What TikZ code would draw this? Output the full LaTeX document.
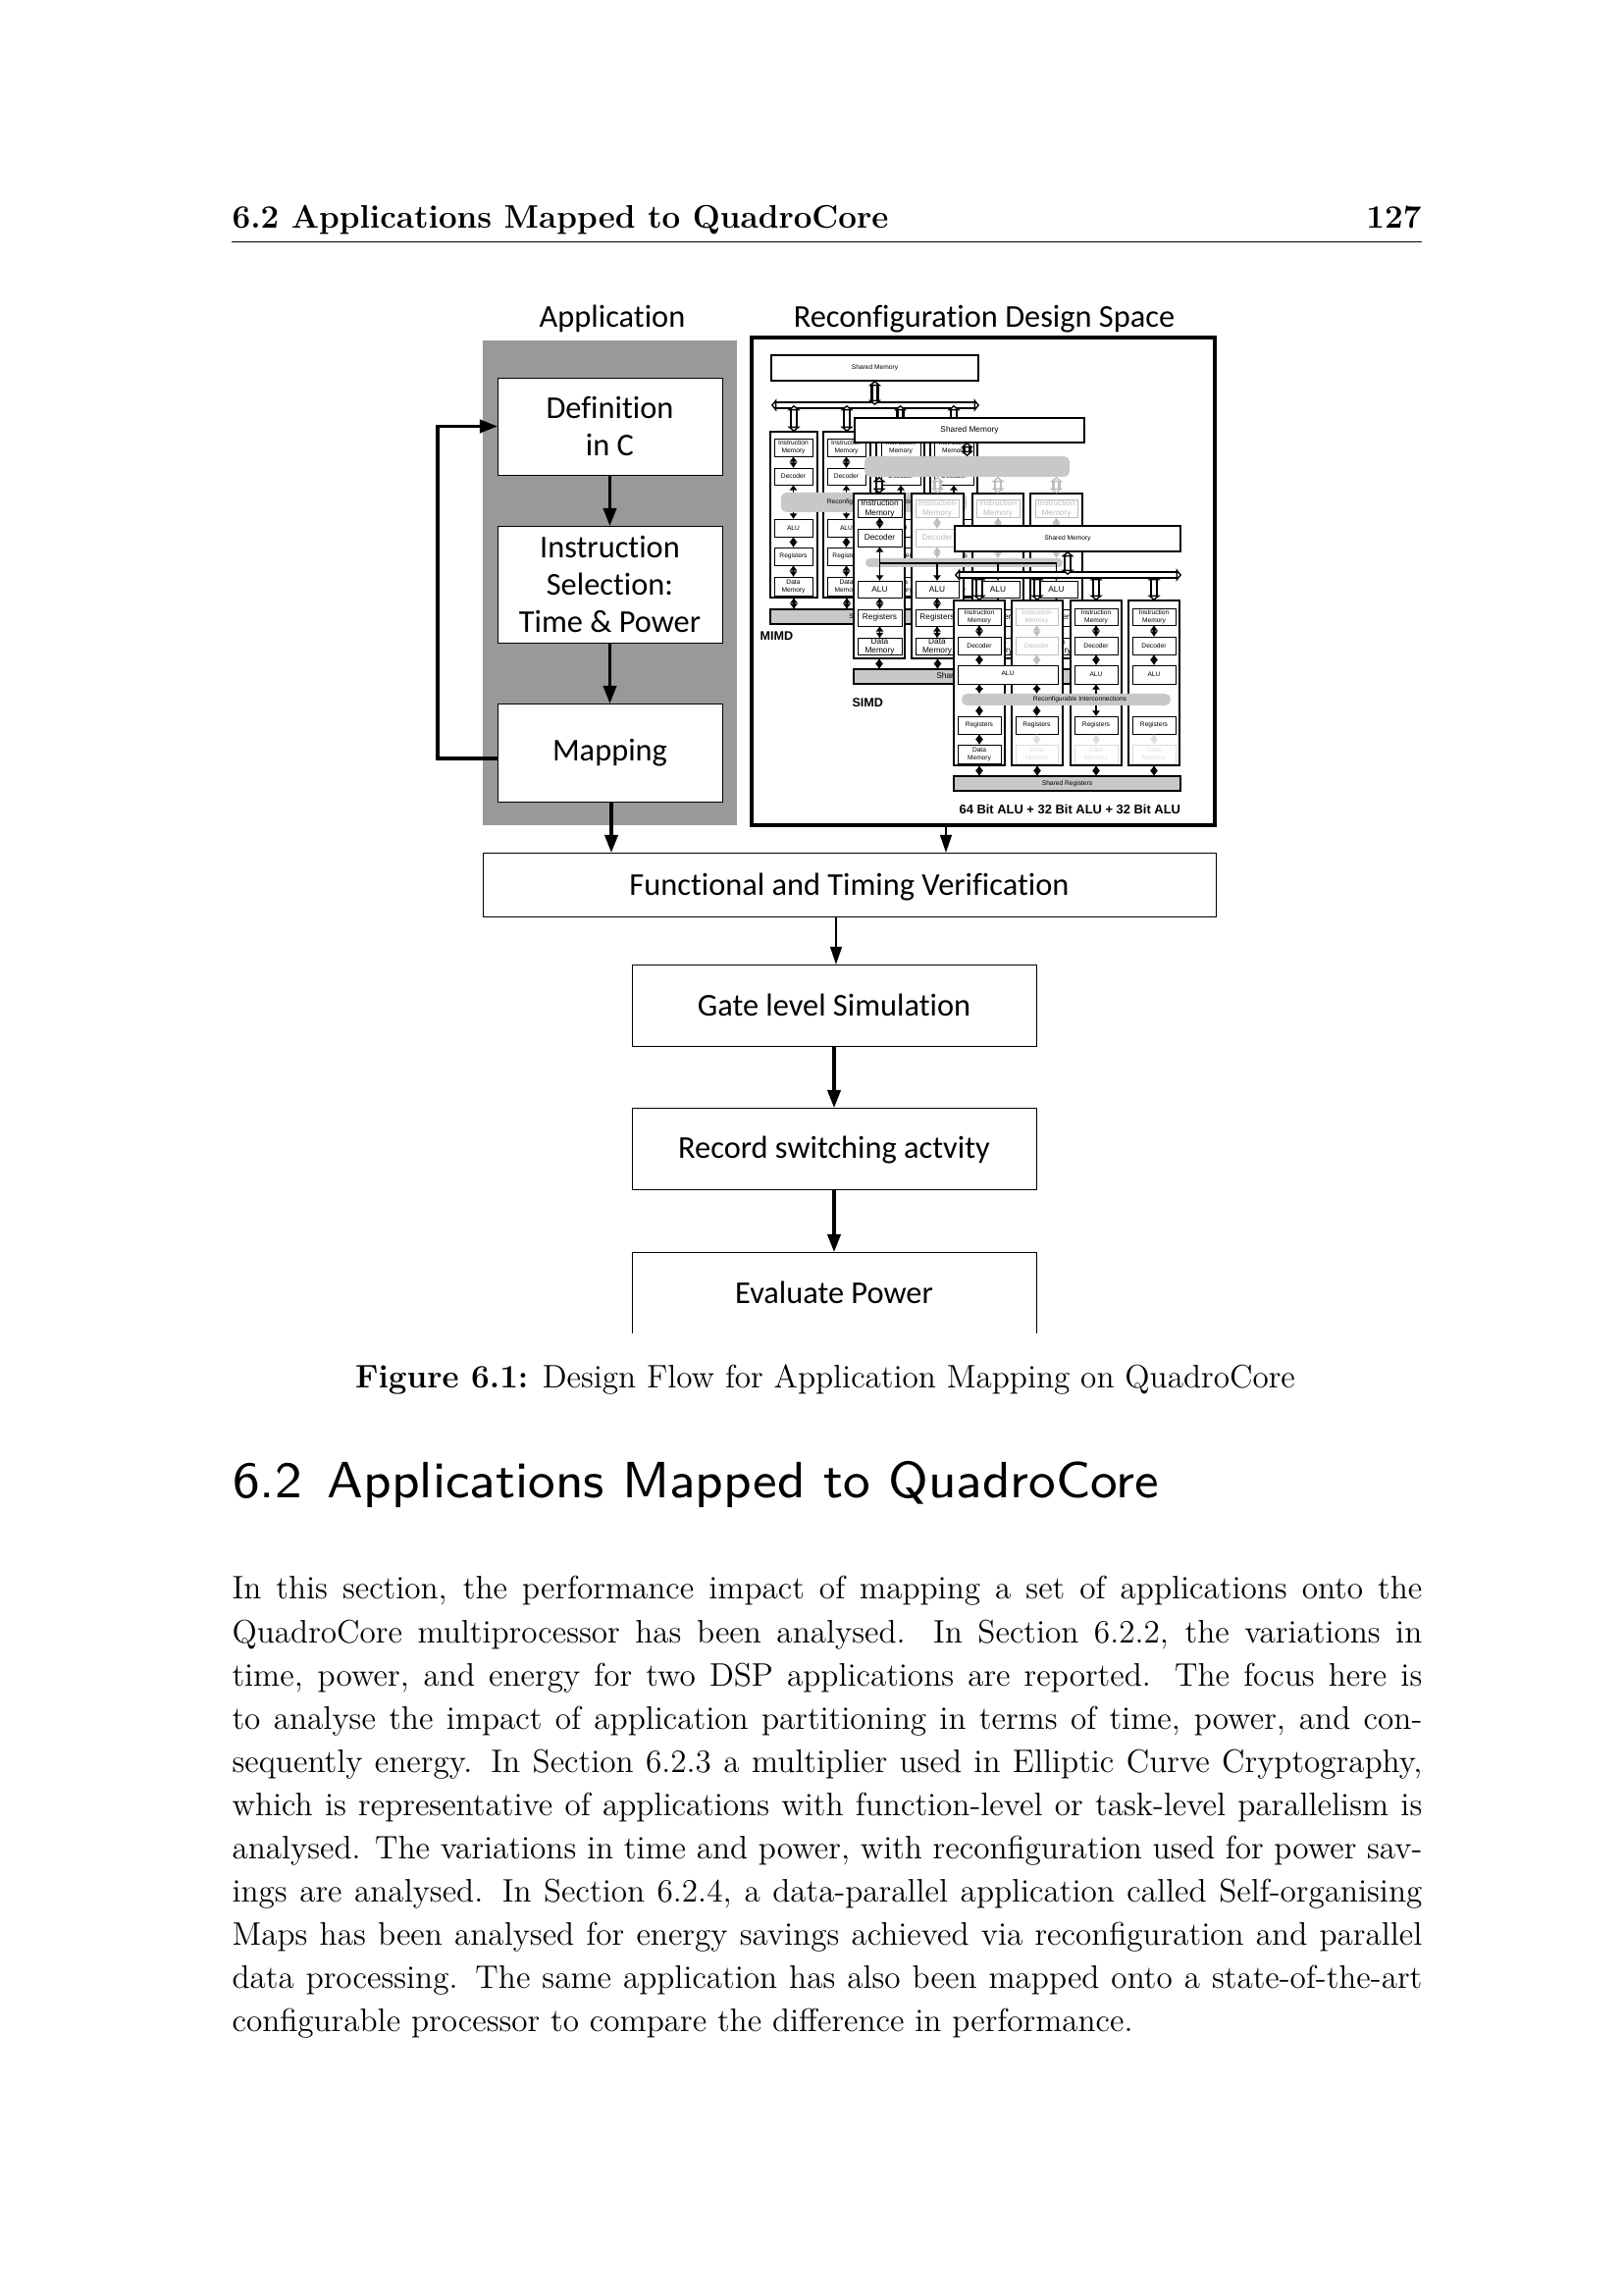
\documentclass[tikz,border=0pt]{standalone}
\usepackage{fontspec}
\newfontfamily\calibri[Ligatures=NoCommon]{Carlito}
\newfontfamily\arial{Liberation Sans}
\usetikzlibrary{calc,positioning,arrows.meta}
\definecolor{panelg}{HTML}{999999}
\definecolor{barg}{HTML}{C8C8C8}
\definecolor{ghost}{HTML}{BDBDBD}
\definecolor{faint}{HTML}{DDDDDD}
\tikzset{
  span/.style args={#1/#2/#3/#4}{at={({(#1+#3)/2},{(#2+#4)/2})},minimum width={(#3-#1)*0.36bp},minimum height={(#4-#2)*0.36bp},inner sep=0pt,outer sep=0pt,anchor=center},
  flowbox/.style={rectangle,draw=black,fill=white,line width=0.3bp,align=center,font=\calibri\fontsize{11.7}{13.7}\selectfont},
  flow/.style={draw,line width=1.1bp,arrows={-Triangle[length=6.5bp,width=4.8bp]}},
  flowthin/.style={draw,line width=0.8bp,arrows={-Triangle[length=6.5bp,width=4.2bp]}},
  core/.style={rectangle,draw=black,fill=white,line width=0.75bp},
  smem/.style={rectangle,draw=black,fill=white,line width=0.7bp,font=\arial\fontsize{2.4}{2.8}\selectfont},
  sreg/.style={smem,fill=barg},
  unita/.style={rectangle,draw=black,fill=white,line width=0.35bp,align=center,font=\arial\fontsize{2.4}{2.9}\selectfont},
  unitb/.style={unita,font=\arial\fontsize{3}{3.5}\selectfont},
  rbar/.style={fill=barg,rounded corners=2pt,font=\arial\fontsize{2.4}{2.8}\selectfont},
  conn/.style={line width=0.7bp,arrows={Latex[length=2bp,width=3bp]-Latex[length=2bp,width=3bp]}},
  ctl/.style={line width=0.7bp,arrows={-Latex[length=2bp,width=3bp]}},
  dbl/.style={double,double distance=1.3bp,line width=0.8bp,arrows={Triangle[length=1.9bp,width=4.6bp,fill=white]-Triangle[length=1.9bp,width=4.6bp,fill=white]}},
  tag/.style={anchor=west,inner sep=0pt,font=\arial\bfseries\fontsize{4.55}{5}\selectfont},
}
\begin{document}
\begin{tikzpicture}[x=0.36bp,y=-0.36bp]
  \useasboundingbox (0,0) rectangle (1654,2339);

  % page text
  \node[anchor=base west,inner sep=0pt,font=\bfseries\fontsize{12}{14}\selectfont] (runhead) at (236,233) {6.2 Applications Mapped to QuadroCore};
  \node[anchor=base east,inner sep=0pt,font=\bfseries\fontsize{12}{14}\selectfont] (pageno) at (1449,233) {127};
  \coordinate (rulel) at (236,246);
  \draw[line width=0.3pt] (rulel) -- (rulel -| pageno.east);

  \node[font=\calibri\fontsize{11.7}{13}\selectfont] (applab) at (624,325) {Application};
  \node[font=\calibri\fontsize{11.7}{13}\selectfont] (deslab) at (1003,325) {Reconfiguration Design Space};

  % application panel
  \node[fill=panelg,span=492/347/751/841] (panel) {};
  \node[flowbox,span=507/385/736/484] (def) {Definition\\in C};
  \node[flowbox,span=507/536/736/655] (ins) {Instruction\\Selection:\\Time \& Power};
  \node[flowbox,span=507/717/736/817] (map) {Mapping};

  % design space
  \node[rectangle,draw=black,fill=white,line width=1.1bp,span=766/344/1238/841] (space) {};

  % MIMD
  \node[smem,span=786/362/997/388] (amem) {Shared Memory};
  \coordinate (abusl) at (786,413);
  \coordinate (abusr) at (998,413);
  \draw[dbl] (abusl) -- (abusr);
  \draw[dbl] (amem.south) -- (amem.south |- abusl);
  \foreach \n/\xa/\xb/\ua/\ub in {1/785/833/789/828,2/839/887/843/882,3/893/942/898/938,4/948/996/952/992}{
    \node[core,span=\xa/440/\xb/609] (acore\n) {};
    \draw[dbl] (acore\n.north |- abusl) -- (acore\n.north);
    \node[unita,span=\ua/447/\ub/465] (aim\n) {Instruction\\Memory};
    \node[unita,span=\ua/477/\ub/494] (adec\n) {Decoder};
    \node[unita,span=\ua/529/\ub/547] (aalu\n) {ALU};
    \node[unita,span=\ua/558/\ub/576] (areg\n) {Registers};
    \node[unita,span=\ua/588/\ub/607] (adm\n) {Data\\Memory};
    \draw[conn] (aim\n) -- (adec\n);
    \draw[conn] (adec\n) -- (aalu\n);
    \draw[conn] (aalu\n) -- (areg\n);
    \draw[conn] (areg\n) -- (adm\n);
  }
  \node[rbar,span=796/502/985/522] (abar) {Reconfigurable Interconnections};
  \node[sreg,span=785/621/997/636] (ashr) {Shared Registers};
  \foreach \n in {1,...,4}
    \draw[conn] (acore\n.south) -- (acore\n.south |- ashr.north);
  \node[tag] (mimd) at (774,648) {MIMD};

  % SIMD
  \foreach \n/\xa/\xb/\ua/\ub/\cc in {1/870/922/874/919/black,2/929/982/933/977/ghost,3/991/1043/995/1039/ghost,4/1050/1103/1055/1098/ghost}{
    \node[core,span=\xa/503/\xb/671] (bcore\n) {};
    \node[unitb,draw=\cc,text=\cc,span=\ua/510/\ub/527] (bim\n) {Instruction\\Memory};
    \node[unitb,draw=\cc,text=\cc,span=\ua/539/\ub/557] (bdec\n) {Decoder};
    \node[unitb,span=\ua/592/\ub/609] (balu\n) {ALU};
    \node[unitb,span=\ua/621/\ub/638] (breg\n) {Registers};
    \node[unitb,span=\ua/651/\ub/667] (bdm\n) {Data\\Memory};
    \draw[conn,\cc] (bim\n) -- (bdec\n);
    \draw[conn] (balu\n) -- (breg\n);
    \draw[conn] (breg\n) -- (bdm\n);
  }
  \node[rbar,span=881/465/1090/486] (btop) {};
  \node[smem,font=\arial\fontsize{3}{3.5}\selectfont,span=871/426/1105/451] (bmem) {Shared Memory};
  \draw[dbl] (bmem.south -| btop.north) -- (btop.north);
  \draw[dbl] (btop.south -| bcore1.north) -- (bcore1.north);
  \foreach \n in {2,3,4}
    \draw[dbl,draw=ghost] (btop.south -| bcore\n.north) -- (bcore\n.north);
  \node[rbar,rounded corners=1.5pt,span=882/569/1083/578] (bbar) {};
  \foreach \n in {2,3,4}
    \draw[conn,ghost] (bdec\n.south) -- (bdec\n.south |- bbar.north);
  \coordinate (bctl) at (896,574);
  \draw[conn] (bdec1) -- (balu1);
  \draw[line width=0.6bp] (bctl) -- (bctl -| balu4);
  \foreach \n in {2,3,4}
    \draw[ctl] (bctl -| balu\n) -- (balu\n);
  \node[sreg,font=\arial\fontsize{3}{3.5}\selectfont,span=870/682/1103/697] (bshr) {Shared Registers};
  \foreach \n in {1,...,4}
    \draw[conn] (bcore\n.south) -- (bcore\n.south |- bshr.north);
  \node[tag] (simd) at (868,716) {SIMD};

  % 64 + 32 + 32
  \node[smem,span=973/536/1203/562] (cmem) {Shared Memory};
  \coordinate (cbusl) at (973,586);
  \coordinate (cbusr) at (1204,586);
  \foreach \n/\xa/\xb/\ua/\ub/\ci/\cd in {1/972/1024/976/1020/black/black,2/1031/1083/1035/1078/ghost/faint,3/1091/1143/1095/1139/black/faint,4/1150/1202/1154/1198/black/faint}{
    \node[core,span=\xa/612/\xb/780] (ccore\n) {};
    \draw[dbl] (ccore\n.north |- cbusl) -- (ccore\n.north);
    \node[unita,draw=\ci,text=\ci,span=\ua/620/\ub/637] (cim\n) {Instruction\\Memory};
    \node[unita,draw=\ci,text=\ci,span=\ua/649/\ub/667] (cdec\n) {Decoder};
    \node[unita,span=\ua/730/\ub/748] (creg\n) {Registers};
    \node[unita,draw=\cd,text=\cd,span=\ua/759/\ub/778] (cdm\n) {Data\\Memory};
    \draw[conn,\ci] (cim\n) -- (cdec\n);
    \draw[conn,\cd] (creg\n) -- (cdm\n);
  }
  \draw[dbl] (cbusl) -- (cbusr);
  \draw[dbl] (cmem.south) -- (cmem.south |- cbusl);
  \node[unita,span=976/678/1078/697] (calua) {\raisebox{1pt}{ALU}};
  \node[unita,span=1095/678/1139/697] (calub) {ALU};
  \node[unita,span=1154/678/1198/697] (caluc) {ALU};
  \node[rbar,span=980/707/1193/719] (cbar) {\hspace*{10bp}Reconfigurable Interconnections};
  \draw[conn] (cdec1.south) -- (cdec1.south |- calua.north);
  \draw[conn,ghost] (cdec2.south) -- (cdec2.south |- calua.north);
  \draw[conn] (cdec3) -- (calub);
  \draw[conn] (cdec4) -- (caluc);
  \foreach \n in {1,2}{
    \draw[conn] (creg\n.north |- calua.south) -- (creg\n.north |- cbar.north);
    \draw[conn] (creg\n.north |- cbar.south) -- (creg\n.north);
  }
  \draw[ctl] (calub.south |- cbar.north) -- (calub.south);
  \draw[ctl] (creg3.north |- cbar.south) -- (creg3.north);
  \node[sreg,span=972/791/1203/806] (cshr) {Shared Registers};
  \foreach \n in {1,...,4}
    \draw[conn] (ccore\n.south) -- (ccore\n.south |- cshr.north);
  \node[tag,font=\arial\bfseries\fontsize{4.67}{5}\selectfont] (mix) at (977,825) {64 Bit ALU + 32 Bit ALU + 32 Bit ALU};

  % flow
  \node[flowbox,span=492/869/1239/934] (func) {\raisebox{-0.9bp}[\height][\depth]{Functional and Timing Verification}};
  \node[flowbox,span=644/983/1056/1066] (gate) {Gate level Simulation};
  \node[flowbox,span=644/1129/1056/1212] (rec) {\raisebox{-0.6bp}[\height][\depth]{Record switching actvity}};
  \node[flowbox,draw=none,span=644/1276/1056/1359] (eval) {Evaluate Power};
  \draw[line width=0.3bp] (eval.south west) -- (eval.north west) -- (eval.north east) -- (eval.south east);

  \begin{scope}[every path/.style=flow]
    \path (def) -- (ins);
    \path (ins) -- (map);
    \coordinate (maploop) at (507,773);
    \path (maploop) -- ++(-61,0) |- (def.west);
    \coordinate (mapfoot) at (623,817);
    \path (mapfoot) -- (mapfoot |- func.north);
    \path (gate) -- (rec);
    \path (rec) -- (eval);
  \end{scope}
  \coordinate (spacefoot) at (964,841);
  \coordinate (funcfoot) at (852,934);
  \path[flowthin] (spacefoot) -- (spacefoot |- func.north);
  \path[flowthin] (funcfoot) -- (funcfoot |- gate.north);

  % caption and body
  \node[inner sep=0pt,font=\fontsize{12}{14}\selectfont] (caption) at (841,1406) {\textbf{Figure 6.1:} Design Flow for Application Mapping on QuadroCore};
  \node[anchor=west,inner sep=0pt,scale=2.35,font=\sffamily\fontsize{8}{10}\selectfont] (sectitle) at (236,1513) {6.2\hspace{0.5em}Applications Mapped to QuadroCore};
  \node[anchor=north west,inner sep=0pt,text width=436.6bp,align=justify,font=\fontsize{12}{15.93}\selectfont] (body) at (236,1606) {In this section, the performance impact of mapping a set of applications onto the\linebreak
  QuadroCore multiprocessor has been analysed. In Section 6.2.2, the variations in\linebreak
  time, power, and energy for two DSP applications are reported. The focus here is\linebreak
  to analyse the impact of application partitioning in terms of time, power, and con-\linebreak
  sequently energy. In Section 6.2.3 a multiplier used in Elliptic Curve Cryptography,\linebreak
  which is representative of applications with function-level or task-level parallelism is\linebreak
  analysed. The variations in time and power, with reconfiguration used for power sav-\linebreak
  ings are analysed. In Section 6.2.4, a data-parallel application called Self-organising\linebreak
  Maps has been analysed for energy savings achieved via reconfiguration and parallel\linebreak
  data processing. The same application has also been mapped onto a state-of-the-art\linebreak
  configurable processor to compare the difference in performance.};
\end{tikzpicture}
\end{document}
